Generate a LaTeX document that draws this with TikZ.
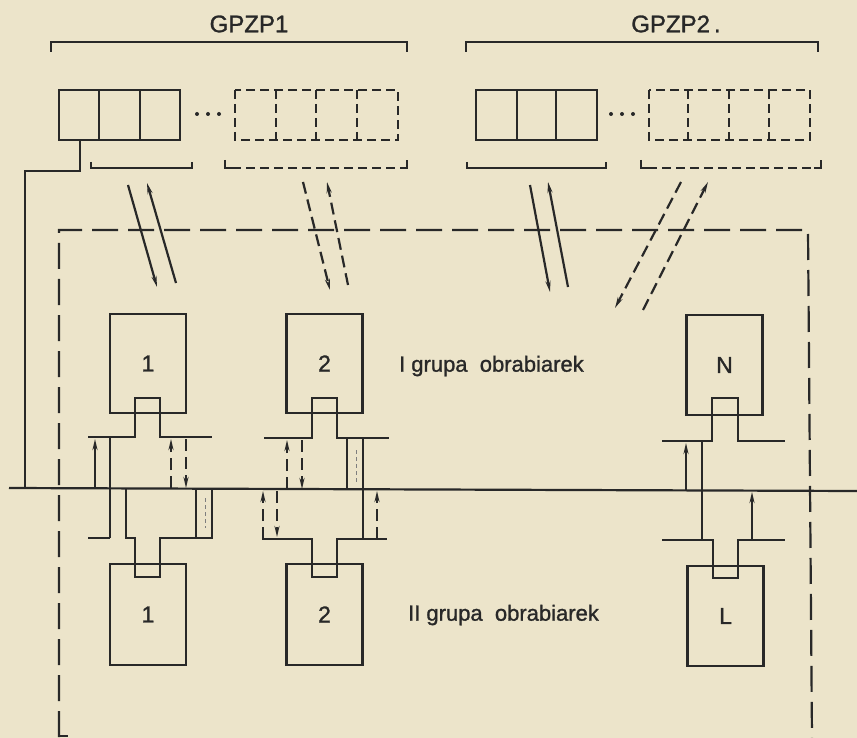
\documentclass[tikz,border=0pt]{standalone}
\usepackage{fontspec}
\setmainfont[FakeBold=1.2]{Liberation Sans}
\usetikzlibrary{arrows.meta}
\definecolor{paper}{RGB}{236,228,202}
\definecolor{ink}{RGB}{40,40,40}
\begin{document}
\begin{tikzpicture}[x=1pt,y=-1pt,line width=2.2pt,ink,
  mbox/.style={draw,line width=2.2pt,minimum width=76pt,inner sep=0pt,text=ink,font=\fontsize{23}{23}\selectfont},
  lbl/.style={text=ink,font=\fontsize{22}{22}\selectfont,inner sep=0pt},
  bigdash/.style={dash pattern=on 26pt off 10pt},
  sdash/.style={dash pattern=on 9pt off 5pt},
  adash/.style={dash pattern=on 12pt off 6pt},
  arr/.style={-{Stealth[length=11pt,width=5pt]}},
  faint/.style={line width=1pt,dash pattern=on 4pt off 3pt,ink!60}]
\fill[paper] (0,0) rectangle (857,738);
\useasboundingbox (0,0) rectangle (857,738);

% titles and brackets
\node[lbl,font=\fontsize{24}{24}\selectfont] (g1) at (249,24) {GPZP1};
\node[lbl,font=\fontsize{24}{24}\selectfont] (g2) at (676,24) {GPZP2\,.};
\draw (51,52) -- (51,42) -- (407,42) -- (407,52);
\draw (466,52) -- (466,42) -- (818,42) -- (818,52);

% GPZP1 stores
\draw (59,90) rectangle (180,140);
\draw (99,90) -- (99,140) (140,90) -- (140,140);
\foreach \x in {197,208,219} \fill (\x,114) circle (2pt);
\draw[sdash] (235,90) rectangle (398,140);
\draw[sdash] (276,90) -- (276,140) (316,90) -- (316,140) (357,90) -- (357,140);
\draw (91,162) -- (91,168) -- (192,168) -- (192,162);
\draw[sdash] (232,168) -- (400,168);
\draw (225,160) -- (225,168) -- (232,168) (400,168) -- (407,168) -- (407,160);

% GPZP2 stores
\draw (476,90) rectangle (597,140);
\draw (517,90) -- (517,140) (556,90) -- (556,140);
\foreach \x in {611,622,633} \fill (\x,114) circle (2pt);
\draw[sdash] (649,90) rectangle (810,140);
\draw[sdash] (688,90) -- (688,140) (729,90) -- (729,140) (769,90) -- (769,140);
\draw (467,162) -- (467,168) -- (606,168) -- (606,162);
\draw[sdash] (648,168) -- (814,168);
\draw (641,160) -- (641,168) -- (648,168) (814,168) -- (821,168) -- (821,160);

% main line and connector from first cell
\coordinate (mlL) at (9,488);
\coordinate (mlR) at (857,491);
\draw (mlL) -- (mlR);
\coordinate (c0) at (80,140);
\coordinate (c1) at (25,488);
\draw (c0) -- (80,171) -- (25,171) -- (c1);

% transfer arrows
\draw[arr] (128,185) -- (157,287);
\draw[arr] (176,283) -- (147,183);
\draw[arr,adash] (303,182) -- (330,290);
\draw[arr,adash] (348,285) -- (327,182);
\draw[arr] (530,185) -- (550,292);
\draw[arr] (568,287) -- (548,182);
\draw[arr,adash] (681,182) -- (615,308);
\draw[arr,adash] (643,310) -- (708,182);

% big dashed frame
\draw[bigdash] (59,737) -- (59,230) -- (808,230) -- (812,738);
\draw (59,736) -- (68,736);

% upper machines
\node[mbox,minimum height=99pt] (u1) at (148,363.5) {1};
\node[mbox,minimum height=99pt] (u2) at (324.5,363.5) {2};
\node[mbox,minimum height=100pt] (uN) at (724.5,365) {N};
\node[lbl,anchor=west] (t1) at (398,366) {I grupa\ \ obrabiarek};

% lower machines
\node[mbox,minimum height=101pt] (l1) at (148,614.5) {1};
\node[mbox,minimum height=101pt] (l2) at (324.5,614.5) {2};
\node[mbox,minimum height=100pt] (lL) at (725.5,616) {L};
\node[lbl,anchor=west] (t2) at (407,615) {II grupa\ \ obrabiarek};

% machine 1 coupling
\draw (88,437) -- (135,437) -- (135,398) -- (160,398) -- (160,437) -- (212,437);
\draw (110,437) -- (110,538);
\draw (88,538) -- (110,538);
\draw[arr] (95,488) -- (95,439);
\draw[arr,adash] (171,488) -- (171,439);
\draw[arr,adash] (186,439) -- (186,488);
\draw (126,488) -- (126,538) -- (135,538) -- (135,577) -- (160,577) -- (160,538) -- (212,538) -- (212,488);
\draw (196,488) -- (196,538);
\draw[faint] (205,498) -- (205,528);

% machine 2 coupling
\draw (264,438) -- (312,438) -- (312,398) -- (337,398) -- (337,438) -- (389,438);
\draw[arr,adash] (287,489) -- (287,440);
\draw[arr,adash] (302,440) -- (302,489);
\draw (347,438) -- (347,489);
\draw (363,438) -- (363,539);
\draw[faint] (356,450) -- (356,482);
\draw (262,539) -- (312,539) -- (312,577) -- (337,577) -- (337,539) -- (387,539);
\draw[arr,adash] (263,539) -- (263,491);
\draw[arr,adash] (277,491) -- (277,537);
\draw[arr,adash] (377,539) -- (377,491);

% machine N / L coupling
\draw (662,441) -- (712,441) -- (712,398) -- (738,398) -- (738,441) -- (785,441);
\draw (702,441) -- (702,540);
\draw[arr] (686,490) -- (686,443);
\draw (662,540) -- (713,540) -- (713,578) -- (738,578) -- (738,540) -- (785,540);
\draw[arr] (752,540) -- (752,492);
\end{tikzpicture}
\end{document}
